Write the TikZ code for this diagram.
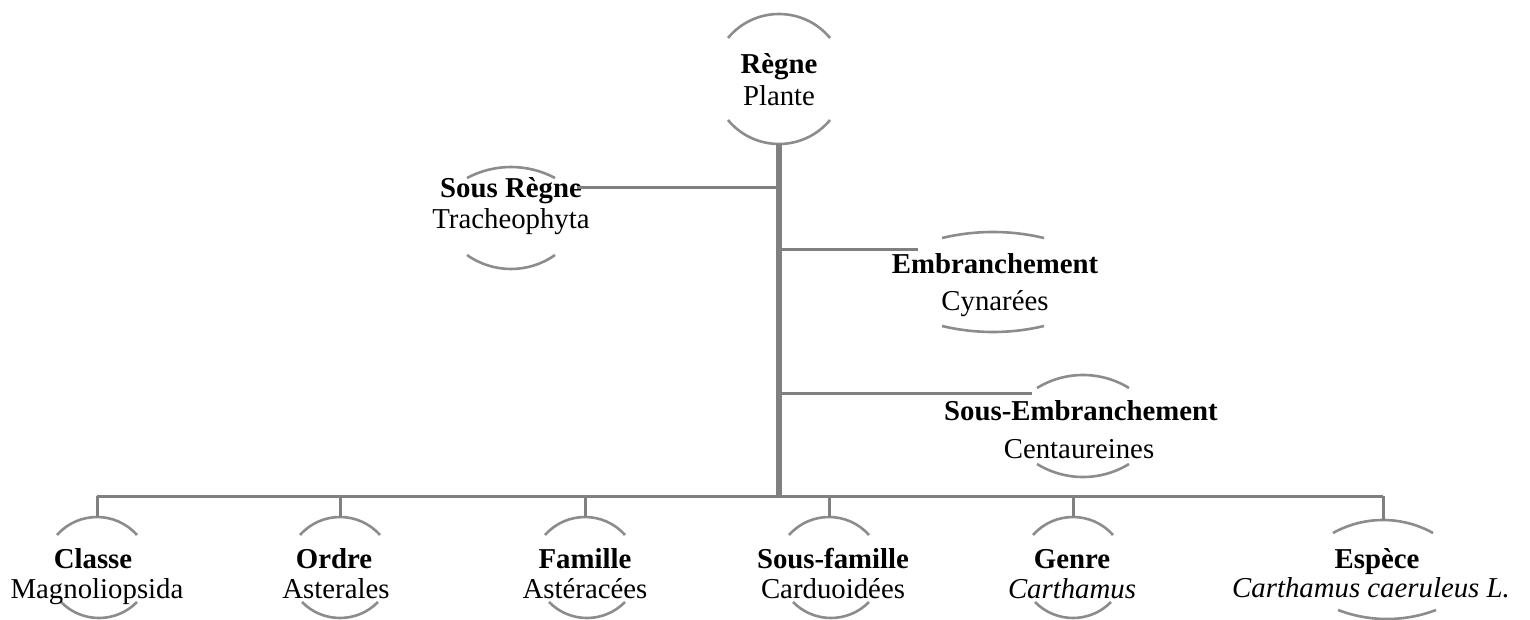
\documentclass[tikz,border=0pt]{standalone}
\usepackage{fontspec}
\setmainfont{Liberation Serif}
\usetikzlibrary{calc}
\definecolor{linegray}{RGB}{128,128,128}
\definecolor{arcgray}{RGB}{140,140,140}
\tikzset{
  arcline/.style={draw=arcgray, line width=1.3pt},
  trunkline/.style={draw=linegray, line width=2.6pt},
  branchline/.style={draw=linegray, line width=1.5pt},
  rank/.style={font=\fontsize{14.4}{16}\selectfont\bfseries, inner sep=0pt, anchor=base},
  taxname/.style={font=\fontsize{14.4}{16}\selectfont, inner sep=0pt, anchor=base},
}
% circular arc: #1 centre x, #2 end y, #3 half chord, #4 sagitta (+ up, - down)
\newcommand\carc[4]{%
  \pgfmathsetmacro\cArr{(#3*#3+#4*#4)/(2*abs(#4))}%
  \pgfmathsetmacro\cAph{asin(#3/\cArr)}%
  \pgfmathsetmacro\cAd{4/3*tan(\cAph/2)*\cArr}%
  \pgfmathsetmacro\cAx{\cAd*cos(\cAph)}%
  \pgfmathsetmacro\cAy{\cAd*sin(\cAph)*sign(#4)}%
  \draw[arcline] (#1-#3,#2) .. controls (#1-#3+\cAx,#2-\cAy) and (#1+#3-\cAx,#2-\cAy) .. (#1+#3,#2);%
}
\begin{document}
\begin{tikzpicture}[x=0.5pt,y=-0.5pt]
\useasboundingbox (0,0) rectangle (1530,620);

% ---------- Regne ----------
\carc{779}{38}{51}{24}
\carc{779}{120}{51}{-24}
\node[rank] (regne) at (779,74) {Règne};
\node[taxname] (regnev) at (779,106) {Plante};

% ---------- trunk and bar ----------
\coordinate (trunktop) at (779,144);
\coordinate (trunkbot) at (779,497);
\draw[trunkline] (trunktop) -- (trunkbot);
\coordinate (barL) at (97,496);
\coordinate (barR) at (1383,496);
\draw[branchline] (barL) -- (barR);

% ---------- Sous Regne ----------
\carc{511}{178}{44}{11}
\carc{511}{255}{44}{-14}
\node[rank] (sregne) at (511,198) {Sous Règne};
\node[taxname] (sregnev) at (511,228) {Tracheophyta};
\coordinate (j1) at (779,188);
\coordinate (sregneend) at (577,188);
\draw[branchline] (j1) -- (sregneend);

% ---------- Embranchement ----------
\carc{993}{238}{51}{6}
\carc{993}{326}{51}{-6}
\node[rank] (emb) at (995,273) {Embranchement};
\node[taxname] (embv) at (995,310) {Cynarées};
\coordinate (j2) at (779,250);
\coordinate (embend) at (918,250);
\draw[branchline] (j2) -- (embend);

% ---------- Sous-Embranchement ----------
\carc{1083}{388}{46}{13}
\carc{1083}{464}{46}{-13}
\node[rank] (semb) at (1081,420) {Sous-Embranchement};
\node[taxname] (sembv) at (1079,458) {Centaureines};
\coordinate (j3) at (779,393);
\coordinate (sembend) at (1032,393);
\draw[branchline] (j3) -- (sembend);

% ---------- bottom row ----------
% Classe
\carc{97}{535}{40}{18}
\carc{99}{602}{38}{-16}
\node[rank] (classe) at (93,568) {Classe};
\node[taxname] (classev) at (97,598) {Magnoliopsida};
\coordinate (classetop) at (97,517);
\draw[branchline] (classetop) -- (classetop |- barL);
% Ordre
\carc{340}{535}{40}{18}
\carc{340}{602}{38}{-16}
\node[rank] (ordre) at (334,568) {Ordre};
\node[taxname] (ordrev) at (336,598) {Asterales};
\coordinate (ordretop) at (340,517);
\draw[branchline] (ordretop) -- (ordretop |- barL);
% Famille
\carc{585}{535}{40}{18}
\carc{587}{602}{38}{-16}
\node[rank] (famille) at (585,568) {Famille};
\node[taxname] (famillev) at (585,598) {Astéracées};
\coordinate (familletop) at (585,517);
\draw[branchline] (familletop) -- (familletop |- barL);
% Sous-famille
\carc{829}{535}{40}{18}
\carc{831}{602}{38}{-16}
\node[rank] (sfam) at (833,568) {Sous-famille};
\node[taxname] (sfamv) at (833,598) {Carduoidées};
\coordinate (sfamtop) at (829,517);
\draw[branchline] (sfamtop) -- (sfamtop |- barL);
% Genre
\carc{1073}{535}{40}{18}
\carc{1073}{602}{38}{-16}
\node[rank] (genre) at (1072,568) {Genre};
\node[taxname] (genrev) at (1072,598) {\itshape Carthamus};
\coordinate (genretop) at (1073,517);
\draw[branchline] (genretop) -- (genretop |- barL);
% Espece
\carc{1383}{533}{50}{13}
\carc{1387}{610}{49}{-9}
\node[rank] (espece) at (1377,568) {Espèce};
\node[taxname] (especev) at (1371,597) {\itshape Carthamus caeruleus L.};
\coordinate (especetop) at (1383,520);
\draw[branchline] (especetop) -- (especetop |- barL);
\end{tikzpicture}
\end{document}
